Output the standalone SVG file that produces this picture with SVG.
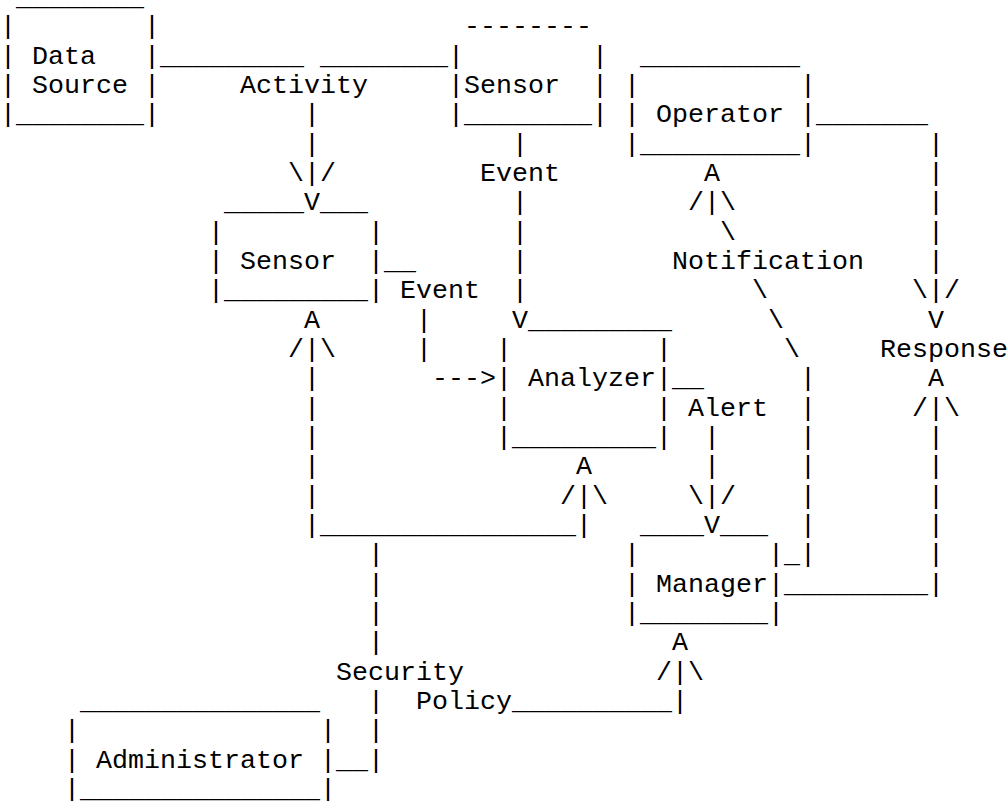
<svg xmlns="http://www.w3.org/2000/svg" width="1007" height="801" viewBox="0 0 1007 801" xml:space="preserve">
<style>
text { font-family: "Liberation Mono", "Courier New", monospace; font-size: 26.667px; white-space: pre; fill: #000; }
</style>
<rect x="0" y="0" width="1007" height="801" fill="#fff"/>
<g id="node-data-source">
<text x="16" y="5">________</text>
<text x="0" y="34.33">|        |</text>
<text x="0" y="63.67">| Data   |</text>
<text x="0" y="93">| Source |</text>
<text x="0" y="122.33">|________|</text>
</g>
<g id="node-sensor-top">
<text x="464" y="34.33">--------</text>
<text x="448" y="63.67">|        |</text>
<text x="448" y="93">|Sensor  |</text>
<text x="448" y="122.33">|________|</text>
</g>
<g id="node-operator">
<text x="640" y="63.67">__________</text>
<text x="624" y="93">|          |</text>
<text x="624" y="122.33">| Operator |</text>
<text x="624" y="151.67">|__________|</text>
</g>
<g id="node-sensor">
<text x="224" y="210.33">_____</text>
<text x="320" y="210.33">___</text>
<text x="208" y="239.67">|         |</text>
<text x="208" y="269">| Sensor  |</text>
<text x="208" y="298.33">|_________|</text>
</g>
<g id="node-analyzer">
<text x="528" y="327.67">_________</text>
<text x="496" y="357">|         |</text>
<text x="496" y="386.33">| Analyzer|</text>
<text x="496" y="415.67">|         |</text>
<text x="496" y="445">|_________|</text>
</g>
<g id="node-manager">
<text x="640" y="533">____</text>
<text x="720" y="533">___</text>
<text x="624" y="562.33">|        |</text>
<text x="624" y="591.67">| Manager|</text>
<text x="624" y="621">|________|</text>
</g>
<g id="node-administrator">
<text x="80" y="709">_______________</text>
<text x="64" y="738.33">|               |</text>
<text x="64" y="767.67">| Administrator |</text>
<text x="64" y="797">|_______________|</text>
</g>
<g id="connectors">
<text x="160" y="63.67">_________</text>
<text x="320" y="63.67">________</text>
<text x="240" y="93">Activity</text>
<text x="304" y="122.33">|</text>
<text x="816" y="122.33">_______</text>
<text x="304" y="151.67">|</text>
<text x="512" y="151.67">|</text>
<text x="928" y="151.67">|</text>
<text x="288" y="181">\|/</text>
<text x="480" y="181">Event</text>
<text x="704" y="181">A</text>
<text x="928" y="181">|</text>
<text x="304" y="210.33">V</text>
<text x="512" y="210.33">|</text>
<text x="688" y="210.33">/|\</text>
<text x="928" y="210.33">|</text>
<text x="512" y="239.67">|</text>
<text x="720" y="239.67">\</text>
<text x="928" y="239.67">|</text>
<text x="384" y="269">__</text>
<text x="512" y="269">|</text>
<text x="672" y="269">Notification</text>
<text x="928" y="269">|</text>
<text x="400" y="298.33">Event</text>
<text x="512" y="298.33">|</text>
<text x="752" y="298.33">\</text>
<text x="912" y="298.33">\|/</text>
<text x="304" y="327.67">A</text>
<text x="416" y="327.67">|</text>
<text x="512" y="327.67">V</text>
<text x="768" y="327.67">\</text>
<text x="928" y="327.67">V</text>
<text x="288" y="357">/|\</text>
<text x="416" y="357">|</text>
<text x="784" y="357">\</text>
<text x="880" y="357">Response</text>
<text x="304" y="386.33">|</text>
<text x="432" y="386.33">---&gt;</text>
<text x="672" y="386.33">__</text>
<text x="800" y="386.33">|</text>
<text x="928" y="386.33">A</text>
<text x="304" y="415.67">|</text>
<text x="688" y="415.67">Alert</text>
<text x="800" y="415.67">|</text>
<text x="912" y="415.67">/|\</text>
<text x="304" y="445">|</text>
<text x="704" y="445">|</text>
<text x="800" y="445">|</text>
<text x="928" y="445">|</text>
<text x="304" y="474.33">|</text>
<text x="576" y="474.33">A</text>
<text x="704" y="474.33">|</text>
<text x="800" y="474.33">|</text>
<text x="928" y="474.33">|</text>
<text x="304" y="503.67">|</text>
<text x="560" y="503.67">/|\</text>
<text x="688" y="503.67">\|/</text>
<text x="800" y="503.67">|</text>
<text x="928" y="503.67">|</text>
<text x="304" y="533">|________________|</text>
<text x="704" y="533">V</text>
<text x="800" y="533">|</text>
<text x="928" y="533">|</text>
<text x="368" y="562.33">|</text>
<text x="784" y="562.33">_|</text>
<text x="928" y="562.33">|</text>
<text x="368" y="591.67">|</text>
<text x="784" y="591.67">_________|</text>
<text x="368" y="621">|</text>
<text x="368" y="650.33">|</text>
<text x="672" y="650.33">A</text>
<text x="336" y="679.67">Security</text>
<text x="656" y="679.67">/|\</text>
<text x="368" y="709">|</text>
<text x="416" y="709">Policy__________|</text>
<text x="368" y="738.33">|</text>
<text x="336" y="767.67">__|</text>
</g>
</svg>
